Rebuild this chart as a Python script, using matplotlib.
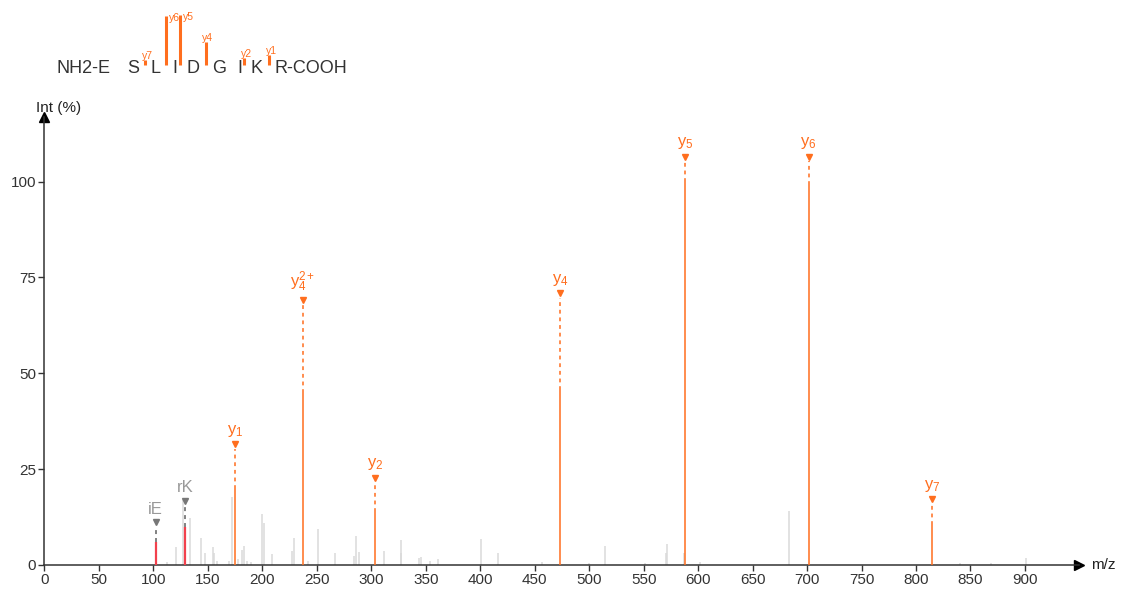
import matplotlib
matplotlib.use('Agg')
import matplotlib.pyplot as plt

plt.rcParams['font.family'] = ['Liberation Sans', 'DejaVu Sans']
plt.rcParams['mathtext.fontset'] = 'custom'
plt.rcParams['mathtext.rm'] = 'Liberation Sans'
plt.rcParams['mathtext.it'] = 'Liberation Sans:italic'
plt.rcParams['mathtext.bf'] = 'Liberation Sans:bold'

# ---------------- data ----------------
ion_names = ['y1', 'y2', 'y4 2+', 'y4', 'y5', 'y6', 'y7']
ion_texts = [r'$\mathrm{y}_{1}$', r'$\mathrm{y}_{2}$', r'$\mathrm{y}_{4}^{2+}$',
             r'$\mathrm{y}_{4}$', r'$\mathrm{y}_{5}$', r'$\mathrm{y}_{6}$', r'$\mathrm{y}_{7}$']
ion_mz = [175.12, 303.21, 237.16, 473.32, 588.35, 701.43, 814.51]
ion_int = [19.7, 13.9, 44.9, 45.6, 100.0, 99.0, 10.4]
ion_label_level = [31.5, 22.7, 69.1, 70.8, 106.5, 106.5, 17.1]

other_names = ['iE', 'rK']
other_mz = [102.05, 129.10]
other_int = [6.0, 10.0]
other_label_level = [11.1, 16.8]

noise_mz = [112.7, 120.7, 126.9, 133.6, 143.7, 147.3, 154.4, 155.6, 158.1, 169.6,
            171.8, 177.9, 181.0, 183.1, 185.6, 189.6, 199.4, 201.5, 208.6, 226.9,
            229.3, 242.2, 251.3, 266.7, 284.1, 285.9, 289.0, 311.6, 327.0, 327.6,
            344.0, 345.3, 353.9, 361.5, 400.7, 416.0, 456.4, 500.1, 514.5, 551.2,
            570.2, 571.1, 587.3, 601.7, 683.7, 840.4, 868.6, 901.0]
noise_int = [0.8, 4.8, 17.0, 12.2, 7.0, 3.1, 4.6, 3.0, 1.0, 1.0,
             17.8, 1.5, 3.9, 5.0, 1.0, 0.8, 13.2, 11.0, 2.8, 3.6,
             7.1, 1.0, 9.3, 3.0, 2.3, 7.5, 3.3, 3.6, 6.5, 3.0,
             1.7, 2.2, 1.0, 1.6, 6.9, 3.0, 0.8, 0.6, 4.9, 0.5,
             3.0, 5.6, 3.0, 0.8, 14.1, 0.4, 0.4, 1.7]

sequence = ['NH2-E', 'S', 'L', 'I', 'D', 'G', 'I', 'K', 'R-COOH']
seq_ions = ['y7', 'y6', 'y5', 'y4', 'y2', 'y1']

x_ticks = list(range(0, 901, 50))
y_ticks = [0, 25, 50, 75, 100]

# ---------------- style ----------------
ORANGE = '#ff6e1e'
RED = '#f2404c'
NOISE = '#dadada'
AXIS = '#333333'
GRAYLBL = '#999999'

W, H = 1125, 597
fig = plt.figure(figsize=(W / 100, H / 100), dpi=100)

x0, x1 = 44.5, 1079.0
y0, y1 = 565.0, 116.7
ax = fig.add_axes([x0 / W, (H - y0) / H, (x1 - x0) / W, (y0 - y1) / H])
ax.set_facecolor('none')
ax.set_xlim(0, (x1 - x0) / 1.0894)
ax.set_ylim(0, (y0 - y1) / 3.835)

for s in ['top', 'right']:
    ax.spines[s].set_visible(False)
for s in ['left', 'bottom']:
    ax.spines[s].set_color(AXIS)
    ax.spines[s].set_linewidth(1.1)

ax.set_xticks(x_ticks)
ax.set_yticks(y_ticks)
ax.tick_params(axis='both', colors=AXIS, labelcolor='#333333', labelsize=11,
               length=4, width=1, pad=2)

# arrow heads
ax.plot(1, 0, marker='>', color='black', ms=7, transform=ax.transAxes, clip_on=False)
ax.plot(0, 1, marker='^', color='black', ms=7, transform=ax.transAxes, clip_on=False)

fig.text(36 / W, (H - 112) / H, 'Int (%)', fontsize=11, color='#222222',
         ha='left', va='baseline')
fig.text(1091 / W, (H - 565) / H, 'm/z', fontsize=11, color='#222222',
         ha='left', va='center')

# noise peaks
ax.vlines(noise_mz, 0, noise_int, color=NOISE, lw=1.1, zorder=1)

# other (immonium / related) ions
ax.vlines(other_mz, 0, other_int, color=RED, lw=1.6, zorder=3)
for name, mz, it, lvl in zip(other_names, other_mz, other_int, other_label_level):
    if lvl - it > 3:
        ax.plot([mz, mz], [it, lvl - 1.2], color='#777777', lw=1.3,
                ls=(0, (2.2, 2.2)), zorder=3)
    ax.plot(mz, lvl, marker='v', color='#777777', ms=5, zorder=4)
    ax.annotate(name, (mz, lvl), xytext=(0, 4), textcoords='offset points',
                ha='center', va='bottom', fontsize=12, color=GRAYLBL)

# main fragment ions
ax.vlines(ion_mz, 0, ion_int, color=ORANGE, lw=1.1, zorder=3)
for txt, mz, it, lvl in zip(ion_texts, ion_mz, ion_int, ion_label_level):
    ax.plot([mz, mz], [it, lvl - 1.2], color=ORANGE, lw=1.1,
            ls=(0, (2.5, 2.5)), zorder=3)
    ax.plot(mz, lvl, marker='v', color=ORANGE, ms=5, zorder=4)
    ax.annotate(txt, (mz, lvl), xytext=(0, 4), textcoords='offset points',
                ha='center', va='bottom', fontsize=12, color=ORANGE)

# ---------------- header: peptide sequence ----------------
hdr = fig.add_axes([0, 0, 1, 1], zorder=5)
hdr.set_xlim(0, W)
hdr.set_ylim(H, 0)
hdr.axis('off')
hdr.patch.set_alpha(0)

res_x = [56.7, 127.3, 151.0, 172.7, 186.7, 211.7, 237.3, 251.0, 275.0]
for res, xx in zip(sequence, res_x):
    hdr.text(xx, 73, res, fontsize=13, color='#333333', ha='left', va='baseline')

cut_x = [145.0, 166.0, 180.0, 205.7, 244.0, 268.7]
lbl_dx = [2.0, 3.0, 3.0, 2.0, 2.5, 2.5]
lbl_mode = ['b', 'side', 'side', 'b', 'b', 'b']
int_by_name = dict(zip(ion_names, ion_int))
base_y = 65.0
for name, cx, dx, mode in zip(seq_ions, cut_x, lbl_dx, lbl_mode):
    top = base_y - int_by_name[name] * 0.5
    hdr.plot([cx, cx], [base_y, top], color=ORANGE, lw=2.2, solid_capstyle='butt')
    if mode == 'side':
        hdr.text(cx + dx, top - 2.5, name, fontsize=7.5, color=ORANGE,
                 ha='left', va='top')
    else:
        hdr.text(cx + dx, top + 1, name, fontsize=7.5, color=ORANGE,
                 ha='center', va='bottom')

fig.savefig('out.png', dpi=100, facecolor='white')
